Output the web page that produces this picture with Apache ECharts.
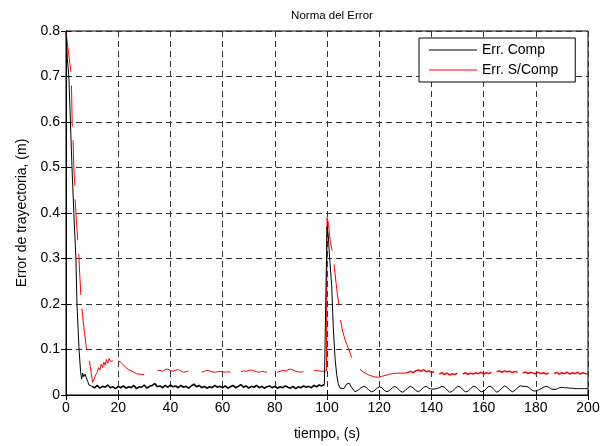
<!DOCTYPE html>
<html>
<head>
<meta charset="utf-8">
<script src="https://cdn.jsdelivr.net/npm/echarts@6/dist/echarts.min.js"></script>
<style>
  html, body { margin: 0; padding: 0; background: #fff; }
  #chart { width: 610px; height: 446px; }
</style>
</head>
<body>
<div id="chart"></div>
<script>
// tick values
var xTicks = [0, 20, 40, 60, 80, 100, 120, 140, 160, 180, 200];
var yTicks = [0, 0.1, 0.2, 0.3, 0.4, 0.5, 0.6, 0.7, 0.8];

// Err. Comp (black): start, noisy plateau (t = 10..99), spike, oscillating tail (t = 112..200)
var compHead = [[0, 0.80], [0.5, 0.74], [1.1, 0.70], [1.7, 0.60], [2.3, 0.50], [3.0, 0.40],
  [3.8, 0.30], [4.2, 0.20], [5.0, 0.10], [5.6, 0.05], [6.0, 0.035], [6.4, 0.048], [6.8, 0.040],
  [7.3, 0.046], [7.8, 0.038], [8.3, 0.030], [8.8, 0.022], [9.4, 0.018]];
var compNoise = [0.019, 0.016, 0.021, 0.015, 0.019, 0.017, 0.022, 0.016, 0.018, 0.014,
  0.019, 0.016, 0.020, 0.015, 0.018, 0.016, 0.021, 0.014, 0.018, 0.017,
  0.022, 0.015, 0.019, 0.021, 0.025, 0.018, 0.020, 0.016, 0.021, 0.017,
  0.022, 0.018, 0.020, 0.016, 0.021, 0.017, 0.019, 0.015, 0.020, 0.024,
  0.018, 0.021, 0.016, 0.019, 0.015, 0.018, 0.016, 0.021, 0.017, 0.019,
  0.016, 0.020, 0.015, 0.018, 0.021, 0.016, 0.019, 0.023, 0.017, 0.020,
  0.015, 0.019, 0.017, 0.021, 0.016, 0.019, 0.015, 0.018, 0.020, 0.016,
  0.019, 0.015, 0.018, 0.016, 0.020, 0.017, 0.015, 0.019, 0.014, 0.018,
  0.016, 0.020, 0.017, 0.019, 0.016, 0.021, 0.018, 0.022, 0.020, 0.023];
var compPeak = [[99.6, 0.022], [100, 0.37], [100.5, 0.35], [100.9, 0.31], [101.8, 0.24],
  [102.4, 0.15], [103.1, 0.08], [103.7, 0.045], [104.3, 0.025], [105, 0.015], [105.6, 0.011],
  [106.5, 0.014], [107.5, 0.024], [108.5, 0.026], [109.5, 0.016], [110.7, 0.007], [111.3, 0.009]];
var compTail = [0.011, 0.016, 0.019, 0.017, 0.011, 0.007, 0.009, 0.014, 0.018, 0.016,
  0.010, 0.007, 0.010, 0.016, 0.019, 0.015, 0.009, 0.006, 0.010, 0.016,
  0.019, 0.016, 0.010, 0.007, 0.011, 0.017, 0.019, 0.015, 0.013, 0.013,
  0.014, 0.016, 0.019, 0.017, 0.011, 0.006, 0.008, 0.014, 0.019, 0.018,
  0.012, 0.007, 0.008, 0.014, 0.019, 0.018, 0.012, 0.007, 0.008, 0.014,
  0.019, 0.018, 0.012, 0.006, 0.009, 0.015, 0.020, 0.017, 0.011, 0.007,
  0.010, 0.016, 0.020, 0.019, 0.019, 0.018, 0.013, 0.009, 0.009, 0.011,
  0.014, 0.017, 0.019, 0.017, 0.013, 0.012, 0.013, 0.016, 0.017, 0.016,
  0.016, 0.015, 0.015, 0.014, 0.014, 0.014, 0.014, 0.014, 0.014];

// Err. S/Comp (red): null = gap in the trace
var sCompHead = [[0, 0.80], [0.8, 0.76], [1.9, 0.71], [2.0, null], [2.1, 0.68], [2.4, 0.59], [2.5, null],
  [2.7, 0.56], [3.0, 0.50], [3.4, 0.46], [3.45, null], [3.5, 0.43], [4.0, 0.38], [4.5, 0.34], [4.7, null],
  [4.9, 0.31], [5.3, 0.26], [5.7, 0.22], [5.9, null], [6.1, 0.19], [7.0, 0.14], [7.9, 0.10], [8.4, null],
  [9.0, 0.075], [9.6, 0.05], [10.2, 0.028], [10.8, 0.035], [11.4, 0.045], [12, 0.050], [12.5, 0.060],
  [13, 0.055], [13.5, 0.068], [14, 0.060], [14.5, 0.072], [15, 0.065], [15.5, 0.078], [16, 0.070],
  [16.5, 0.080], [17, 0.074], [17.5, 0.078], [18, 0.075], [19, null]];
// t = 20..99
var sCompMid = [0.075, 0.072, 0.066, 0.060, 0.056, 0.053, 0.050, 0.047, 0.046, 0.045,
  0.045, null, null, null, null, 0.053, 0.054, 0.052, 0.056, 0.057,
  0.054, 0.052, 0.055, 0.056, 0.053, 0.050, 0.051, 0.053, null, null,
  null, null, 0.050, 0.052, 0.054, 0.053, 0.051, 0.050, 0.051, 0.052,
  0.051, 0.050, 0.051, 0.050, null, null, null, 0.051, 0.053, 0.052,
  0.054, 0.055, 0.053, 0.051, 0.050, 0.052, 0.051, 0.050, null, null,
  null, 0.050, 0.052, 0.054, 0.053, 0.055, 0.057, 0.055, 0.052, 0.051,
  0.050, 0.052, null, null, null, 0.053, 0.054, 0.053, 0.052, 0.053];
var sCompPeak = [[99.8, 0.053], [100, 0.39], [100.6, 0.375], [101, 0.35], [101.5, 0.33], [102, 0.317],
  [102.3, null], [102.7, 0.287], [103.5, 0.245], [104, 0.22], [104.6, 0.197], [104.9, null],
  [105.2, 0.165], [106, 0.14], [107, 0.12], [108, 0.105], [109.5, 0.082], [111, null],
  [112.6, 0.057], [114, 0.050], [116, 0.044], [118, 0.040], [119.7, 0.039], [121, 0.041],
  [123, 0.044], [125, 0.047], [126.7, 0.048], [128, 0.048], [130.3, 0.048]];
// t = 131..200
var sCompTail = [0.050, 0.052, 0.049, 0.053, 0.055, 0.052, 0.056, 0.051, 0.053, 0.049,
  0.051, null, 0.046, 0.049, 0.045, 0.048, 0.044, 0.047, 0.045, 0.048,
  null, 0.046, 0.049, 0.045, 0.048, 0.046, 0.049, 0.047, 0.050, 0.046,
  0.049, 0.047, 0.050, null, 0.051, 0.053, 0.050, 0.053, 0.051, 0.052,
  0.049, 0.052, 0.050, null, 0.048, 0.051, 0.047, 0.050, 0.048, 0.046,
  0.050, 0.047, 0.049, 0.046, 0.048, null, 0.047, 0.050, 0.046, 0.049,
  0.047, 0.050, 0.046, 0.049, 0.047, 0.050, 0.046, 0.049, 0.047, 0.046];

function pairs(list) {
  return list.map(function (p) { return [p[0], p[1] === null ? '-' : p[1]]; });
}
function fromStart(t0, values) {
  return values.map(function (v, i) { return [t0 + i, v === null ? '-' : v]; });
}

// thin parts and the noisy (drawn thicker) parts of each trace
var compNoiseData = fromStart(10, compNoise);
var compThin = pairs(compHead).concat([compNoiseData[0], [10.5, '-'], compNoiseData[compNoiseData.length - 1]],
  pairs(compPeak), fromStart(112, compTail));
var sCompThin = pairs(sCompHead).concat(fromStart(20, sCompMid), pairs(sCompPeak));
var sCompThick = [[130.3, 0.048]].concat(fromStart(131, sCompTail));

var font = 'Liberation Sans, Arial, sans-serif';
var dash = { color: '#333', width: 1, type: [6, 4] };

function lineSeries(name, color, width, data, z) {
  return {
    name: name, type: 'line', symbol: 'none', connectNulls: false,
    color: color, lineStyle: { color: color, width: width }, data: data, z: z
  };
}

var option = {
  animation: false,
  backgroundColor: '#fff',
  title: {
    text: 'Norma del Error',
    left: 327,
    top: 5,
    textAlign: 'center',
    textStyle: { fontFamily: font, fontSize: 11.5, fontWeight: 'normal', color: '#000' }
  },
  legend: {
    orient: 'vertical',
    left: 419,
    top: 38,
    padding: [4, 17, 4, 10],
    itemGap: 4,
    itemWidth: 48,
    itemHeight: 1,
    icon: 'rect',
    backgroundColor: '#fff',
    borderColor: '#000',
    borderWidth: 1,
    borderRadius: 0,
    textStyle: { fontFamily: font, fontSize: 14, color: '#000', lineHeight: 16 },
    data: ['Err. Comp', 'Err. S/Comp']
  },
  grid: {
    left: 66, right: 22, top: 31, bottom: 41,
    show: true, borderColor: '#000', borderWidth: 1, backgroundColor: '#fff'
  },
  xAxis: [{
    type: 'value', min: 0, max: 200, interval: 20,
    name: 'tiempo, (s)', nameLocation: 'middle', nameGap: 32,
    nameTextStyle: { fontFamily: font, fontSize: 14, color: '#000' },
    axisLine: { lineStyle: { color: '#000' } },
    axisTick: { inside: true, length: 5, lineStyle: { color: '#000' } },
    axisLabel: { fontFamily: font, fontSize: 14, color: '#000', margin: 6,
      formatter: function (v) { return xTicks.indexOf(v) >= 0 ? String(v) : ''; } },
    splitLine: { show: true, lineStyle: dash }
  }, {
    type: 'value', position: 'top', min: 0, max: 200, interval: 20,
    axisLine: { lineStyle: { color: '#000' } },
    axisTick: { inside: true, length: 5, lineStyle: { color: '#000' } },
    axisLabel: { show: false }, splitLine: { show: false }
  }],
  yAxis: [{
    type: 'value', min: 0, max: 0.8, interval: 0.1,
    name: 'Error de trayectoria, (m)', nameLocation: 'middle', nameGap: 37,
    nameTextStyle: { fontFamily: font, fontSize: 14, color: '#000' },
    axisLine: { show: true, lineStyle: { color: '#000' } },
    axisTick: { show: true, inside: true, length: 5, lineStyle: { color: '#000' } },
    axisLabel: { fontFamily: font, fontSize: 14, color: '#000', margin: 6,
      formatter: function (v) {
        var t = Math.round(v * 10) / 10;
        return yTicks.indexOf(t) >= 0 ? String(t) : '';
      } },
    splitLine: { show: true, lineStyle: dash }
  }, {
    type: 'value', position: 'right', min: 0, max: 0.8, interval: 0.1,
    axisLine: { show: true, lineStyle: { color: '#000' } },
    axisTick: { show: true, inside: true, length: 5, lineStyle: { color: '#000' } },
    axisLabel: { show: false }, splitLine: { show: false }
  }],
  series: [
    lineSeries('Err. Comp', '#000', 1, compThin, 4),
    lineSeries('Err. Comp', '#000', 1.6, compNoiseData, 4),
    lineSeries('Err. S/Comp', '#ff0000', 1, sCompThin, 3),
    lineSeries('Err. S/Comp', '#ff0000', 1.5, sCompThick, 3)
  ]
};

var myChart = echarts.init(document.getElementById('chart'));
myChart.setOption(option);
</script>
</body>
</html>
